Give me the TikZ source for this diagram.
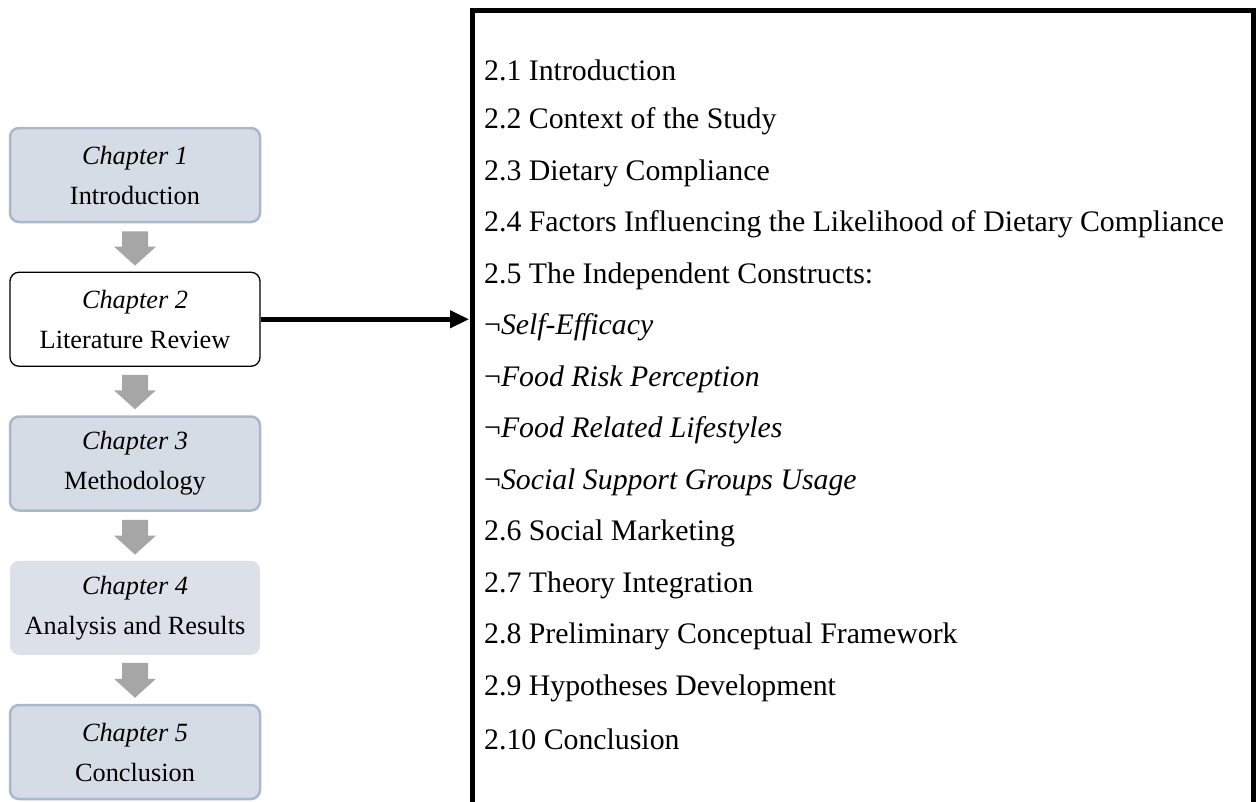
\documentclass[tikz,border=0pt]{standalone}
\usepackage{fontspec}
\setmainfont{Liberation Serif}
\usetikzlibrary{calc,arrows.meta}

\definecolor{boxfill}{HTML}{D6DCE5}
\definecolor{boxline}{HTML}{A9B8CD}
\definecolor{stepgray}{HTML}{A6A6A6}

\tikzset{
  chapbox/.style={rounded corners=9pt, minimum width=250pt, minimum height=94pt,
    align=center, inner sep=0pt, font=\fontsize{26.3}{40}\selectfont},
  plainbox/.style={chapbox, fill=boxfill, draw=boxline, line width=2.5pt},
  softbox/.style={chapbox, fill=boxfill!85!white},
  focusbox/.style={chapbox, fill=white, draw=black, line width=1.3pt},
  item/.style={anchor=west, inner sep=0pt, font=\fontsize{29.8}{34}\selectfont},
  pointer/.style={line width=4.5pt, -{Triangle[length=19pt,width=17pt]}},
}

% thick grey down arrow between two chapter boxes
\newcommand{\chapterarrow}[2]{%
  \fill[stepgray]
    ($(#1.south)+(-13,8)$) -- ($(#1.south)+(13,8)$) --
    ($(#2.north)+(13,-25)$) -- ($(#2.north)+(21,-25)$) --
    ($(#2.north)+(0,-6)$) --
    ($(#2.north)+(-21,-25)$) -- ($(#2.north)+(-13,-25)$) -- cycle;}

\begin{document}
\begin{tikzpicture}[x=1pt, y=-1pt]
\useasboundingbox (0,0) rectangle (1256,801);

% chapter sequence
\node[plainbox] (c1) at (135,175)    {\textit{Chapter 1}\\Introduction};
\node[focusbox] (c2) at (135,319.25) {\textit{Chapter 2}\\Literature Review};
\node[plainbox] (c3) at (135,463.5)  {\textit{Chapter 3}\\Methodology};
\node[softbox]  (c4) at (135,607.75) {\textit{Chapter 4}\\Analysis and Results};
\node[plainbox] (c5) at (135,752)    {\textit{Chapter 5}\\Conclusion};

\chapterarrow{c1}{c2}
\chapterarrow{c2}{c3}
\chapterarrow{c3}{c4}
\chapterarrow{c4}{c5}

% contents panel of chapter 2
\draw[line width=5pt] (472,820) -- (472,10.5) -- (1253.5,10.5) -- (1253.5,820);
\coordinate (panel) at (469,319.25);
\draw[pointer] (c2.east) -- (panel);

\node[item] (s1)  at (484,70)    {2.1 Introduction};
\node[item] (s2)  at (484,121.5) {2.2 Context of the Study};
\node[item] (s3)  at (484,173)   {2.3 Dietary Compliance};
\node[item] (s4)  at (484,224.5) {2.4 Factors Influencing the Likelihood of Dietary Compliance};
\node[item] (s5)  at (484,276)   {2.5 The Independent Constructs:};
\node[item] (s5a) at (484,327.5) {¬\textit{Self-Efficacy}};
\node[item] (s5b) at (484,379)   {¬\textit{Food Risk Perception}};
\node[item] (s5c) at (484,430.5) {¬\textit{Food Related Lifestyles}};
\node[item] (s5d) at (484,482)   {¬\textit{Social Support Groups Usage}};
\node[item] (s6)  at (484,533.5) {2.6 Social Marketing};
\node[item] (s7)  at (484,585)   {2.7 Theory Integration};
\node[item] (s8)  at (484,636.5) {2.8 Preliminary Conceptual Framework};
\node[item] (s9)  at (484,688)   {2.9 Hypotheses Development};
\node[item] (s10) at (484,739.5) {2.10 Conclusion};
\end{tikzpicture}
\end{document}
